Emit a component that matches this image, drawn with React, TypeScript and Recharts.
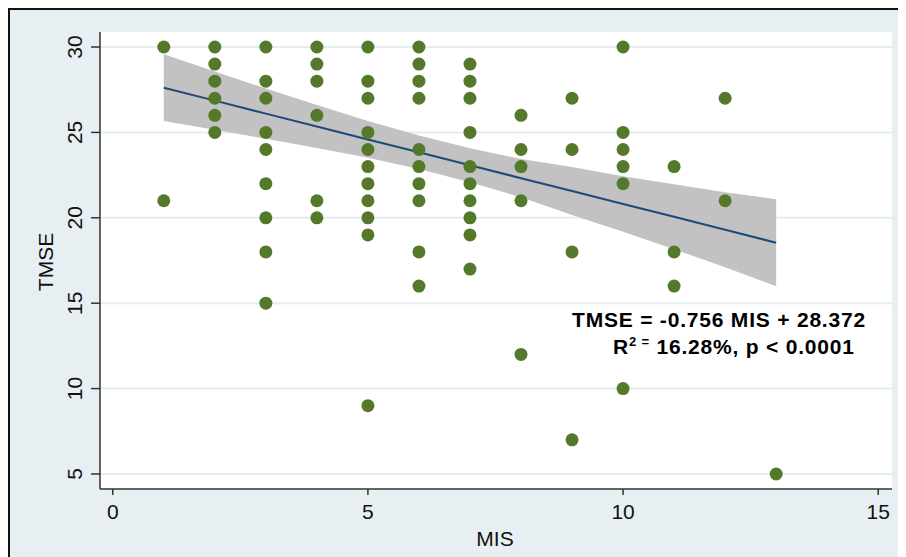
import React from "react";
import {
  ComposedChart,
  XAxis,
  YAxis,
  CartesianGrid,
  Scatter,
  Line,
  Area,
} from "recharts";

// ---- data ----
const MIS_VALUES = [1, 2, 3, 4, 5, 6, 7, 8, 9, 10, 11, 12, 13];
const TMSE_BY_MIS: number[][] = [
  [30, 21],
  [30, 29, 28, 27, 26, 25],
  [30, 28, 27, 25, 24, 22, 20, 18, 15],
  [30, 29, 28, 26, 21, 20],
  [30, 28, 27, 25, 24, 23, 22, 21, 20, 19, 9],
  [30, 29, 28, 27, 24, 23, 22, 21, 18, 16],
  [29, 28, 27, 25, 23, 22, 21, 20, 19, 17],
  [26, 24, 23, 21, 12],
  [27, 24, 18, 7],
  [30, 25, 24, 23, 22, 10],
  [23, 18, 16],
  [27, 21],
  [5],
];

const FIT_X = [1, 2, 3, 4, 5, 6, 7, 8, 9, 10, 11, 12, 13];
const FIT_Y = [27.62, 26.86, 26.1, 25.35, 24.59, 23.84, 23.08, 22.32, 21.57, 20.81, 20.06, 19.3, 18.54];
const CI_UPPER = [29.57, 28.56, 27.57, 26.61, 25.67, 24.82, 24.08, 23.44, 22.97, 22.43, 21.96, 21.5, 21.09];
const CI_LOWER = [25.67, 25.16, 24.63, 24.09, 23.51, 22.86, 22.08, 21.2, 20.17, 19.19, 18.16, 17.1, 15.99];

const X_TICKS = [0, 5, 10, 15];
const Y_TICKS = [5, 10, 15, 20, 25, 30];

const X_LABEL = "MIS";
const Y_LABEL = "TMSE";
const EQUATION = "TMSE = -0.756 MIS + 28.372";
const STATS = " 16.28%, p < 0.0001";

// ---- derived tables ----
const points = MIS_VALUES.flatMap((m, i) => TMSE_BY_MIS[i].map((t) => ({ x: m, y: t })));
const fitData = FIT_X.map((x, i) => ({
  x,
  fit: FIT_Y[i],
  band: [CI_LOWER[i], CI_UPPER[i]],
}));

const FONT = "'Liberation Sans', Arial, Helvetica, sans-serif";
const BG = "#e8eff2";
const DOT = "#55792b";

const XTick = (props: any) => {
  const { x, y, payload } = props;
  return (
    <text x={x} y={y + 20} textAnchor="middle" fontFamily={FONT} fontSize={21} fill="#111">
      {payload.value}
    </text>
  );
};

const YTick = (props: any) => {
  const { x, y, payload } = props;
  return (
    <text
      x={x}
      y={y}
      transform={`rotate(-90 ${x} ${y})`}
      textAnchor="middle"
      fontFamily={FONT}
      fontSize={21}
      fill="#111"
    >
      {payload.value}
    </text>
  );
};

const Dot = (props: any) => {
  const { cx, cy } = props;
  return <circle cx={cx} cy={cy} r={6.5} fill={DOT} />;
};

export default function App() {
  const W = 896;
  const H = 547;
  return (
    <div
      style={{
        position: "relative",
        width: 898,
        height: 549,
        boxSizing: "border-box",
        borderLeft: "2px solid #111",
        borderTop: "2px solid #111",
        background: BG,
        overflow: "hidden",
      }}
    >
      <ComposedChart
        width={W}
        height={H}
        data={fitData}
        margin={{ top: 22, right: 14, bottom: 0, left: 0 }}
      >
        <CartesianGrid
          vertical={false}
          stroke="#e4edf0"
          strokeWidth={2}
          fill="#ffffff"
          horizontalValues={Y_TICKS}
        />
        <XAxis
          type="number"
          dataKey="x"
          domain={[-0.25, 15.27]}
          allowDataOverflow
          ticks={X_TICKS}
          interval={0}
          tickSize={6}
          tickMargin={4}
          stroke="#333"
          strokeWidth={1.5}
          tickLine={{ stroke: "#333", strokeWidth: 1.5 }}
          tick={<XTick />}
          height={68}
        />
        <YAxis
          type="number"
          domain={[4.12, 30.88]}
          allowDataOverflow
          ticks={Y_TICKS}
          interval={0}
          width={90}
          tickSize={9}
          tickMargin={9}
          stroke="#333"
          strokeWidth={1.5}
          tickLine={{ stroke: "#333", strokeWidth: 1.5 }}
          tick={<YTick />}
        />
        <Area
          type="linear"
          dataKey="band"
          stroke="none"
          fill="#c2c2c2"
          fillOpacity={1}
          isAnimationActive={false}
          activeDot={false}
        />
        <Line
          type="linear"
          dataKey="fit"
          stroke="#1d4a78"
          strokeWidth={2}
          dot={false}
          activeDot={false}
          isAnimationActive={false}
        />
        <Scatter data={points} dataKey="y" shape={<Dot />} isAnimationActive={false} />
      </ComposedChart>
      <svg
        width={W}
        height={H}
        style={{ position: "absolute", left: 0, top: 0, pointerEvents: "none" }}
      >
        <text
          x={43}
          y={252}
          transform="rotate(-90 43 252)"
          textAnchor="middle"
          fontFamily={FONT}
          fontSize={21}
          fill="#111"
        >
          {Y_LABEL}
        </text>
        <text x={485} y={536} textAnchor="middle" fontFamily={FONT} fontSize={21} fill="#111">
          {X_LABEL}
        </text>
        <text
          x={562}
          y={317}
          fontFamily={FONT}
          fontSize={21}
          fontWeight="bold"
          letterSpacing={0.8}
          fill="#000"
        >
          {EQUATION}
        </text>
        <text
          x={603}
          y={344}
          fontFamily={FONT}
          fontSize={21}
          fontWeight="bold"
          letterSpacing={0.8}
          fill="#000"
        >
          R
          <tspan dy={-8} fontSize={13}>
            2 =
          </tspan>
          <tspan dy={8} fontSize={21}>
            {STATS}
          </tspan>
        </text>
      </svg>
    </div>
  );
}
